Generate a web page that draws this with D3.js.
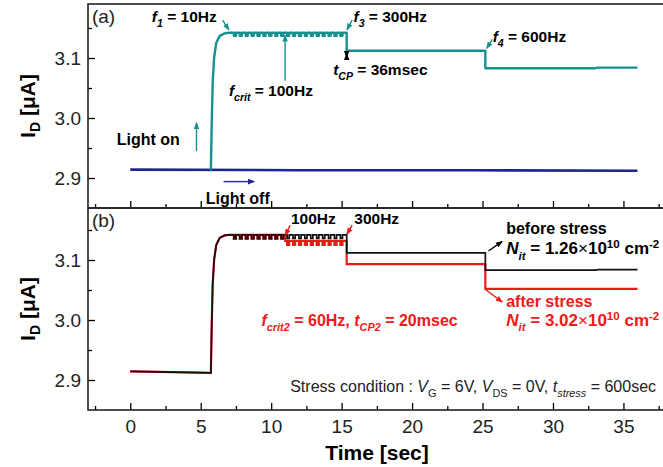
<!DOCTYPE html>
<html>
<head>
<meta charset="utf-8">
<script src="https://cdn.jsdelivr.net/npm/d3@7"></script>
<style>
  body { margin: 0; background: #fff; }
  text { font-family: "Liberation Sans", Arial, sans-serif; }
</style>
</head>
<body>
<div id="chart"></div>
<script>
// Axis ticks
const timeTicks = [0, 5, 10, 15, 20, 25, 30, 35];
const timeMinor = [-2.5, 2.5, 7.5, 12.5, 17.5, 22.5, 27.5, 32.5, 37.5];
const currentTicks = [2.9, 3.0, 3.1];
const currentMinor = [2.95, 3.05, 3.15];

// Panel (a): [time sec, I_D uA]
const lightOffA = [[0, 2.914], [12, 2.913], [24, 2.913], [36, 2.912]];
const lightOnA = [[5.72, 2.913], [5.78, 2.99], [5.85, 3.06], [5.95, 3.10], [6.1, 3.125], [6.35, 3.137],
  [6.7, 3.141], [7.0, 3.142], [15.36, 3.142], [15.36, 3.112], [25.2, 3.112], [25.2, 3.083],
  [33.0, 3.083], [33.2, 3.084], [36, 3.084]];

// Panel (b)
const beforeB = [[0, 2.9145], [3, 2.913], [5.72, 2.912], [5.78, 2.99], [5.85, 3.06], [5.95, 3.10],
  [6.1, 3.125], [6.35, 3.137], [6.7, 3.141], [7.0, 3.142], [15.36, 3.142], [15.36, 3.112],
  [25.2, 3.112], [25.2, 3.083], [33.0, 3.083], [33.2, 3.084], [36, 3.084]];
const afterB = [[0, 2.9145], [3, 2.913], [5.72, 2.912], [5.78, 2.99], [5.85, 3.06], [5.95, 3.10],
  [6.1, 3.125], [6.35, 3.137], [6.7, 3.141], [7.0, 3.142], [11.0, 3.142], [11.0, 3.132],
  [15.36, 3.132], [15.36, 3.093], [25.2, 3.093], [25.2, 3.052], [36, 3.052]];

// chopped-light pulses seen as small notches on the plateaus
const pulseTimes = [7.35, 7.77, 8.19, 8.61, 9.03, 9.45, 9.87, 10.29, 10.71, 11.13, 11.55, 11.97,
  12.39, 12.81, 13.23, 13.65, 14.07, 14.49, 14.91];

const teal = "#16908f", navy = "#1c2590", red = "#f01818";

const width = 663, height = 467;
const svg = d3.select("#chart").append("svg")
  .attr("width", width).attr("height", height);

const x = d3.scaleLinear().domain([-3, 38]).range([88, 665.7]);
const yA = d3.scaleLinear().domain([2.85, 3.19]).range([208, 4]);
const yB = d3.scaleLinear().domain([2.85, 3.19]).range([410, 206]);

// arrow heads
const defs = svg.append("defs");
[["teal", teal], ["navy", navy], ["red", red], ["black", "#000"]].forEach(([id, c]) => {
  defs.append("marker").attr("id", "ah-" + id)
    .attr("viewBox", "0 0 10 10").attr("refX", 9).attr("refY", 5)
    .attr("markerWidth", 7).attr("markerHeight", 7)
    .attr("markerUnits", "userSpaceOnUse").attr("orient", "auto-start-reverse")
    .append("path").attr("d", "M0,1 L10,5 L0,9 z").attr("fill", c);
});

// insert notches into flat stretches
function withPulses(points, depth, w) {
  const out = [];
  points.forEach((p, i) => {
    out.push(p);
    const n = points[i + 1];
    if (n && n[1] === p[1] && n[0] > p[0]) {
      pulseTimes.filter(t => t > p[0] && t + w < n[0] && t > 7.1).forEach(t => {
        out.push([t, p[1]], [t, p[1] - depth], [t + w, p[1] - depth], [t + w, p[1]]);
      });
    }
  });
  return out;
}

function drawPanel(y, top, bottom, labels) {
  const g = svg.append("g");
  // bottom axis, ticks pointing in
  g.append("g").attr("transform", `translate(0,${bottom})`)
    .call(d3.axisBottom(x).tickValues(timeTicks).tickSize(-7).tickPadding(10)
      .tickFormat(labels ? d3.format("d") : ""))
    .call(a => a.select(".domain").remove())
    .attr("font-size", 19).attr("font-family", null);
  g.append("g").attr("transform", `translate(0,${bottom})`)
    .call(d3.axisBottom(x).tickValues(timeMinor).tickSize(-4).tickFormat(""))
    .call(a => a.select(".domain").remove());
  // left axis
  g.append("g").attr("transform", `translate(${x(-3)},0)`)
    .call(d3.axisLeft(y).tickValues(currentTicks).tickSize(-7).tickPadding(7)
      .tickFormat(d3.format(".1f")))
    .call(a => a.select(".domain").remove())
    .attr("font-size", 19).attr("font-family", null);
  g.append("g").attr("transform", `translate(${x(-3)},0)`)
    .call(d3.axisLeft(y).tickValues(currentMinor).tickSize(-4).tickFormat(""))
    .call(a => a.select(".domain").remove());
  g.selectAll(".tick line").attr("stroke-width", 1.3);
  g.selectAll(".tick text").attr("fill", "#222");
  // frame
  g.append("rect").attr("x", x(-3)).attr("y", top)
    .attr("width", x(38) - x(-3)).attr("height", bottom - top)
    .attr("fill", "none").attr("stroke", "#222").attr("stroke-width", 1.6);
  // y title
  const cy = (top + bottom) / 2;
  const t = g.append("text").attr("transform", `translate(35,${cy}) rotate(-90)`)
    .attr("text-anchor", "middle").attr("font-size", 21).attr("font-weight", "bold");
  t.append("tspan").text("I");
  t.append("tspan").attr("dy", 5).attr("font-size", 14).text("D");
  t.append("tspan").attr("dy", -5).text(" [\u03bcA]");
}

drawPanel(yA, 4, 208, false);
drawPanel(yB, 208, 410, true);

// x title
svg.append("text").attr("x", 377).attr("y", 460).attr("text-anchor", "middle")
  .attr("font-size", 21).attr("font-weight", "bold").text("Time [sec]");

// traces
const lineA = d3.line().x(d => x(d[0])).y(d => yA(d[1]));
const lineB = d3.line().x(d => x(d[0])).y(d => yB(d[1]));

svg.append("path").attr("d", lineA(lightOffA))
  .attr("fill", "none").attr("stroke", navy).attr("stroke-width", 2.6);
svg.append("path").attr("d", lineA(withPulses(lightOnA, 0.005, 0.15)))
  .attr("fill", "none").attr("stroke", teal).attr("stroke-width", 2.4)
  .attr("stroke-linejoin", "round");

svg.append("path").attr("d", lineB(withPulses(afterB, 0.007, 0.15)))
  .attr("fill", "none").attr("stroke", red).attr("stroke-width", 2.2);
svg.append("path").attr("d", lineB(withPulses(beforeB, 0.006, 0.15)))
  .attr("fill", "none").attr("stroke", "#111").attr("stroke-width", 1.7);

// rich text helper: parts = [text, style] with style i / sub / sup / n (normal weight)
function rich(y, t, v, parts, size, color, weight) {
  const el = svg.append("text").attr("x", x(t)).attr("y", y(v))
    .attr("font-size", size).attr("fill", color).attr("font-weight", weight || "bold");
  let shift = 0;
  parts.forEach(([txt, st = ""]) => {
    const s = st.includes("sub") ? size * 0.32 : st.includes("sup") ? -size * 0.38 : 0;
    el.append("tspan").attr("dy", s - shift)
      .attr("font-size", s !== 0 ? size * 0.68 : size)
      .attr("font-style", st.includes("i") ? "italic" : null)
      .attr("font-weight", st.includes("n") ? "normal" : null)
      .text(txt);
    shift = s;
  });
  return el;
}

function arrow(y, from, to, color, both) {
  svg.append("line")
    .attr("x1", x(from[0])).attr("y1", y(from[1]))
    .attr("x2", x(to[0])).attr("y2", y(to[1]))
    .attr("stroke", color === "black" ? "#000" : { teal, navy, red }[color])
    .attr("stroke-width", 1.4)
    .attr("marker-end", `url(#ah-${color})`)
    .attr("marker-start", both ? `url(#ah-${color})` : null);
}

// panel (a) notes
rich(yA, -2.72, 3.158, [["(a)"]], 19, "#222", "normal");
rich(yA, 1.53, 3.16, [["f", "i"], ["1", "i sub"], [" = 10Hz"]], 15.5, "#000");
arrow(yA, [6.55, 3.163], [7.0, 3.147], "teal");
rich(yA, 15.84, 3.16, [["f", "i"], ["3", "i sub"], [" = 300Hz"]], 15.5, "#000");
arrow(yA, [15.75, 3.163], [15.38, 3.147], "teal");
rich(yA, 25.72, 3.127, [["f", "i"], ["4", "i sub"], [" = 600Hz"]], 15.5, "#000");
arrow(yA, [25.69, 3.131], [25.3, 3.116], "teal");
rich(yA, 14.4, 3.072, [["t", "i"], ["CP", "i sub"], [" = 36msec"]], 15.5, "#000");
arrow(yA, [15.36, 3.101], [15.36, 3.107], "black", true);
rich(yA, 7.0, 3.037, [["f", "i"], ["crit", "i sub"], [" = 100Hz"]], 15.5, "#000");
arrow(yA, [10.99, 3.062], [10.99, 3.138], "teal");
rich(yA, -0.96, 2.9556, [["Light on"]], 16, "#000");
arrow(yA, [4.7, 2.945], [4.7, 2.992], "teal");
rich(yA, 5.36, 2.857, [["Light off"]], 16, "#000");
arrow(yA, [6.62, 2.894], [8.8, 2.894], "navy");

// panel (b) notes
rich(yB, -2.72, 3.155, [["(b)"]], 19, "#222", "normal");
rich(yB, 11.4, 3.1606, [["100Hz"]], 15.5, "#000");
arrow(yB, [11.35, 3.158], [11.0, 3.141], "red");
rich(yB, 15.9, 3.1606, [["300Hz"]], 15.5, "#000");
arrow(yB, [15.75, 3.158], [15.38, 3.143], "red");
rich(yB, 26.68, 3.143, [["before stress"]], 16, "#000");
rich(yB, 26.68, 3.1094, [["N", "i"], ["it", "i sub"], [" = 1.26"], ["\u00d7", "n"], ["10"], ["10", "sup"], [" cm"], ["-2", "sup"]], 17, "#000");
arrow(yB, [25.42, 3.115], [26.4, 3.131], "black");
rich(yB, 26.68, 3.021, [["after stress"]], 16, red);
rich(yB, 26.68, 2.99, [["N", "i"], ["it", "i sub"], [" = 3.02"], ["\u00d7", "n"], ["10"], ["10", "sup"], [" cm"], ["-2", "sup"]], 17, red);
arrow(yB, [25.25, 3.05], [26.4, 3.03], "red");
rich(yB, 9.31, 2.99, [["f", "i"], ["crit2", "i sub"], [" = 60Hz, "], ["t", "i"], ["CP2", "i sub"], [" = 20msec"]], 16, red);
rich(yB, 11.35, 2.8806, [["Stress condition : "], ["V", "i"], ["G", "sub"], [" = 6V, "], ["V", "i"],
  ["DS", "sub"], [" = 0V, "], ["t", "i"], ["stress", "i sub"], [" = 600sec"]], 16, "#222", "normal");
</script>
</body>
</html>
